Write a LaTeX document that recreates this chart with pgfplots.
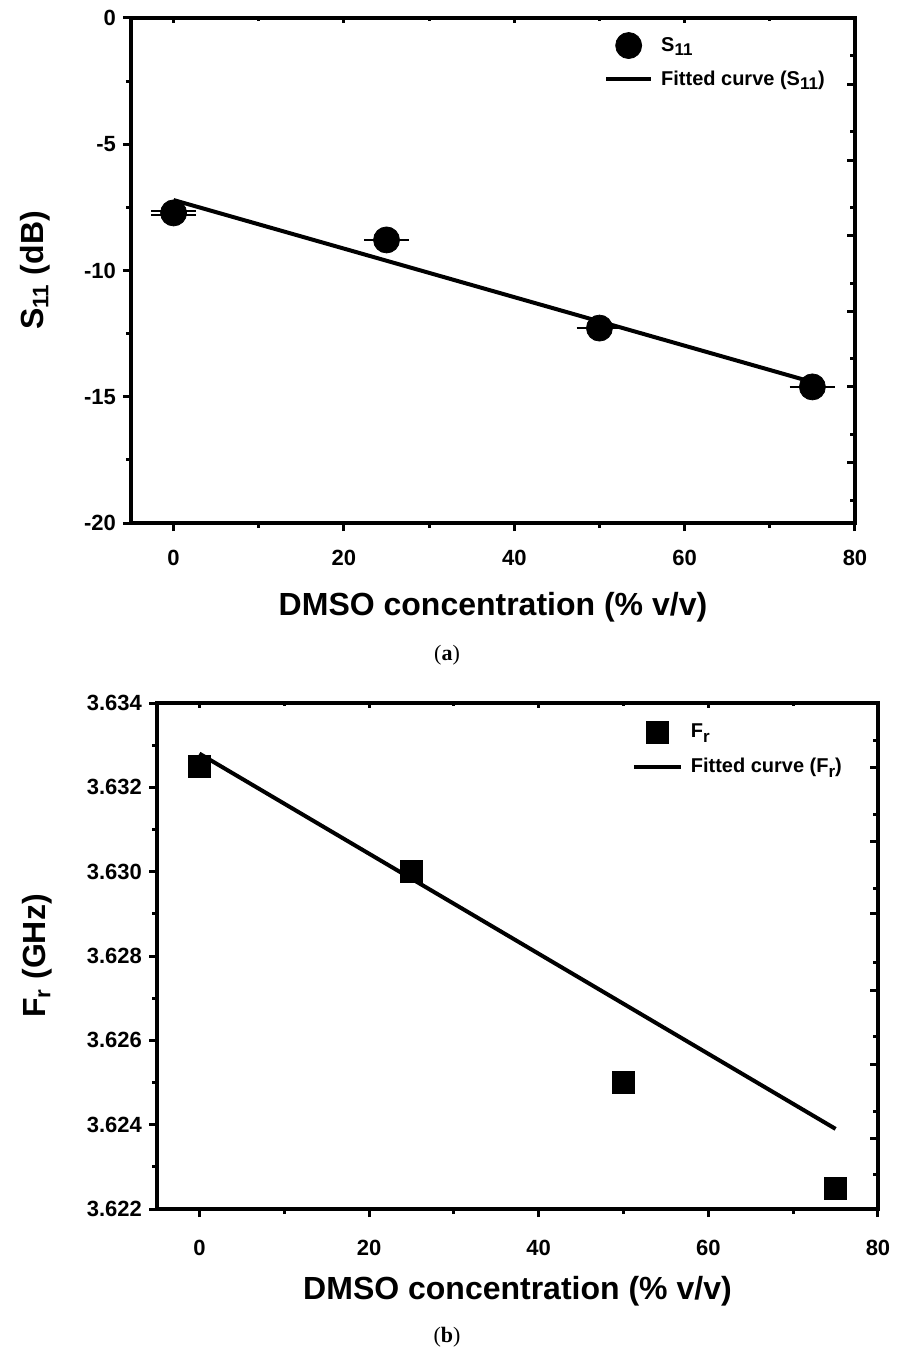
\documentclass[border=0pt]{standalone}
\usepackage{fontspec}
\setmainfont{Liberation Sans}
\newfontfamily\serifcap{Liberation Serif}
\usepackage{pgfplots}
\pgfplotsset{compat=1.18}
\newcommand\lsub[1]{\raisebox{-0.45ex}{\fontsize{8.5pt}{9pt}\selectfont #1}}
\pgfplotsset{
  base/.style={
    scale only axis,
    axis line style={line width=2pt},
    tick style={line width=1.5pt, black},
    major tick length=4pt, minor tick length=2.5pt,
    tick align=outside,
    xtick pos=left, ytick pos=left,
    /pgf/number format/assume math mode=true,
    tick label style={font=\fontsize{11pt}{13pt}\selectfont\bfseries},
    xticklabel style={yshift=-6pt},
    label style={font=\fontsize{16pt}{19pt}\selectfont\bfseries},
    legend cell align=left,
  },
  topticks/.style={
    scale only axis, axis x line*=top, hide y axis,
    axis line style={line width=2pt},
    tick style={line width=1.5pt, black},
    tick align=inside, major tick length=2.5pt, minor tick length=1.5pt,
    xticklabels={},
  },
  rightticks/.style={
    scale only axis, axis y line*=right, hide x axis,
    axis line style={line width=2pt},
    tick style={line width=1.5pt, black},
    tick align=inside, major tick length=4pt, minor tick length=2.5pt,
    yticklabels={},
  },
}
\begin{document}
\begin{tikzpicture}
\path[use as bounding box] (0pt,0pt) rectangle (448.5pt,-676.5pt);

% ---------- (a) ----------
\begin{axis}[base, at={(65.5pt,-261.5pt)}, anchor=south west,
  width=362pt, height=252.5pt,
  xmin=-5, xmax=80, ymin=-20, ymax=0,
  xtick={0,20,40,60,80}, minor xtick={10,30,50,70},
  ytick={-20,-15,-10,-5,0}, minor ytick={-17.5,-12.5,-7.5,-2.5},
  xlabel={DMSO concentration (\% v/v)},
  ylabel={S\textsubscript{11} (dB)},
  xlabel style={at={(axis description cs:0.5,-0.166)}, anchor=center},
  ylabel style={at={(axis description cs:-0.1326,0.5)}, anchor=center},
  legend style={at={(0.653,0.972)}, anchor=north west, draw=none, fill=none,
    inner sep=0pt, row sep=4.5pt, column sep=2.5pt, nodes={inner sep=1.5pt},
    font=\fontsize{10pt}{12pt}\selectfont\bfseries},
]
\addplot[black, only marks, mark=*, mark size=6.5pt,
  legend image code/.code={\draw[black, mark=*, mark size=6.5pt] plot coordinates {(11.25pt,0pt)};},
  error bars/.cd, y dir=both, y explicit,
  error bar style={line width=1.2pt, black},
  error mark options={rotate=90, black, mark size=11.25pt, line width=1.2pt}]
  coordinates {(0,-7.72) +- (0,0.08) (25,-8.79) +- (0,0) (50,-12.28) +- (0,0) (75,-14.61) +- (0,0)};
\addlegendentry{S\lsub{11}}
\addplot[black, line width=2pt, no marks,
  legend image code/.code={\draw[black, line width=2pt] (0pt,0pt) -- (22.5pt,0pt);}]
  coordinates {(0,-7.21) (75,-14.42)};
\addlegendentry{Fitted curve (S\lsub{11})}
\end{axis}
\begin{axis}[topticks, at={(65.5pt,-261.5pt)}, anchor=south west,
  width=362pt, height=252.5pt, xmin=-5, xmax=80, ymin=-20, ymax=0,
  xtick={0,20,40,60}, minor xtick={10,30,50,70}]
\end{axis}
\begin{axis}[rightticks, at={(65.5pt,-261.5pt)}, anchor=south west,
  width=362pt, height=252.5pt, xmin=-5, xmax=80, ymin=-20, ymax=0,
  ytick={-17.59,-14.61,-11.61,-8.62,-5.63,-2.63},
  minor ytick={-19.09,-16.48,-13.49,-10.50,-7.51,-4.49,-1.50}]
\end{axis}
\node[font=\serifcap\fontsize{11pt}{12pt}\selectfont] at (223.5pt,-327.5pt) {(\textbf{a})};

% ---------- (b) ----------
\begin{axis}[base, at={(78.5pt,-604.5pt)}, anchor=south west,
  width=360.5pt, height=253pt,
  xmin=-5, xmax=80, ymin=3.622, ymax=3.634,
  xtick={0,20,40,60,80}, minor xtick={10,30,50,70},
  ytick={3.622,3.624,3.626,3.628,3.630,3.632,3.634},
  minor ytick={3.623,3.625,3.627,3.629,3.631,3.633},
  scaled y ticks=false,
  xticklabel style={yshift=-2pt},
  yticklabel style={/pgf/number format/.cd, fixed, fixed zerofill, precision=3},
  xlabel={DMSO concentration (\% v/v)},
  ylabel={F\textsubscript{r} (GHz)},
  xlabel style={at={(axis description cs:0.5,-0.163)}, anchor=center},
  ylabel style={at={(axis description cs:-0.1664,0.5)}, anchor=center},
  legend style={at={(0.658,0.966)}, anchor=north west, draw=none, fill=none,
    inner sep=0pt, row sep=6pt, column sep=2.5pt, nodes={inner sep=1.5pt},
    font=\fontsize{10pt}{12pt}\selectfont\bfseries},
]
\addplot[black, only marks, mark=square*, mark size=5.5pt,
  legend image code/.code={\draw[black, mark=square*, mark size=5.5pt] plot coordinates {(11.75pt,0pt)};}]
  coordinates {(0,3.6325) (25,3.6300) (50,3.6250) (75,3.6225)};
\addlegendentry{F\lsub{r}}
\addplot[black, line width=2pt, no marks,
  legend image code/.code={\draw[black, line width=2pt] (0pt,0pt) -- (23.5pt,0pt);}]
  coordinates {(0,3.6328) (75,3.6239)};
\addlegendentry{Fitted curve (F\lsub{r})}
\end{axis}
\begin{axis}[topticks, at={(78.5pt,-604.5pt)}, anchor=south west,
  width=360.5pt, height=253pt, xmin=-5, xmax=80, ymin=3.622, ymax=3.634,
  xtick={0,20,40,60}, minor xtick={10,30,50,70}]
\end{axis}
\begin{axis}[rightticks, at={(78.5pt,-604.5pt)}, anchor=south west,
  width=360.5pt, height=253pt, xmin=-5, xmax=80, ymin=3.622, ymax=3.634,
  scaled y ticks=false,
  ytick={3.62367,3.62543,3.62719,3.62900,3.63071,3.63247},
  minor ytick={3.62282,3.62432,3.62608,3.62784,3.62960,3.63136,3.63312}]
\end{axis}
\node[font=\serifcap\fontsize{11pt}{12pt}\selectfont] at (223.5pt,-668.5pt) {(\textbf{b})};
\end{tikzpicture}
\end{document}
